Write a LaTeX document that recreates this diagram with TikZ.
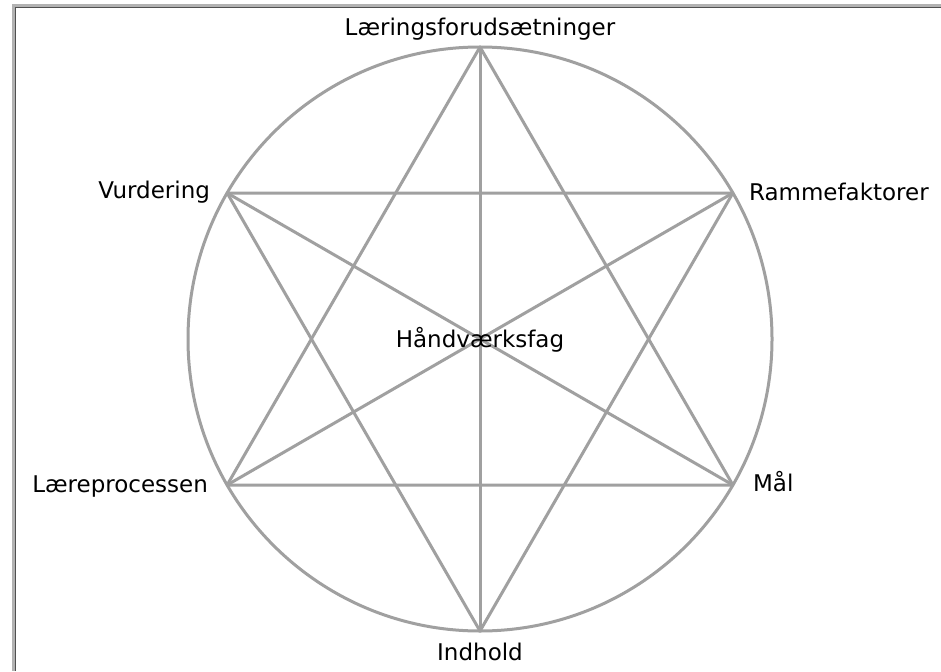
\documentclass[tikz,border=0pt]{standalone}
\usepackage{fontspec}
\setmainfont{DejaVu Sans}
\usepackage{xcolor}
\usepackage{tikz}
\usetikzlibrary{positioning}
\definecolor{cLine}{RGB}{160,160,160}
\definecolor{cFrame}{RGB}{178,178,178}
\definecolor{cEdge}{RGB}{80,80,80}

\begin{document}
\begin{tikzpicture}[x=1pt,y=-1pt,
    star/.style={cLine,line width=3pt,line join=round},
    lbl/.style={inner sep=0pt,font=\fontsize{23}{28}\selectfont}]
  \def\r{292}
  \useasboundingbox (0,0) rectangle (941,671);
  \fill[white] (0,0) rectangle (941,671);
  % frame
  \fill[cFrame] (12,4) rectangle (15,671);
  \fill[cFrame] (12,4) rectangle (941,7);
  \draw[cEdge,line width=1pt] (15.5,671) -- (15.5,7.5) -- (941,7.5);
  % vertices
  \coordinate (c) at (480,339);
  \path (c) ++(-90:\r) coordinate (lf)
        (c) ++(-30:\r) coordinate (ram)
        (c) ++(30:\r)  coordinate (maal)
        (c) ++(90:\r)  coordinate (ind)
        (c) ++(150:\r) coordinate (laere)
        (c) ++(210:\r) coordinate (vur);
  \draw[star] (c) circle (\r);
  \draw[star] (lf) -- (maal) -- (laere) -- cycle;
  \draw[star] (ind) -- (vur) -- (ram) -- cycle;
  \draw[star] (lf) -- (ind);
  \draw[star] (vur) -- (maal);
  \draw[star] (ram) -- (laere);
  % labels
  \node[lbl,anchor=base] (nLf) at ([yshift=11pt]lf) {Læringsforudsætninger};
  \node[lbl,anchor=base] (nInd) at ([yshift=-29pt]ind) {Indhold};
  \node[lbl,anchor=base east] (nVur) at ([xshift=-17pt,yshift=-5pt]vur) {Vurdering};
  \node[lbl,anchor=base west] (nRam) at ([xshift=16pt,yshift=-7pt]ram) {Rammefaktorer};
  \node[lbl,anchor=base east] (nLaere) at ([xshift=-19pt,yshift=-7pt]laere) {Læreprocessen};
  \node[lbl,anchor=base west] (nMaal) at ([xshift=20pt,yshift=-6pt]maal) {Mål};
  \node[lbl,anchor=base] (nFag) at ([yshift=-8pt]c) {Håndværksfag};
\end{tikzpicture}
\end{document}
